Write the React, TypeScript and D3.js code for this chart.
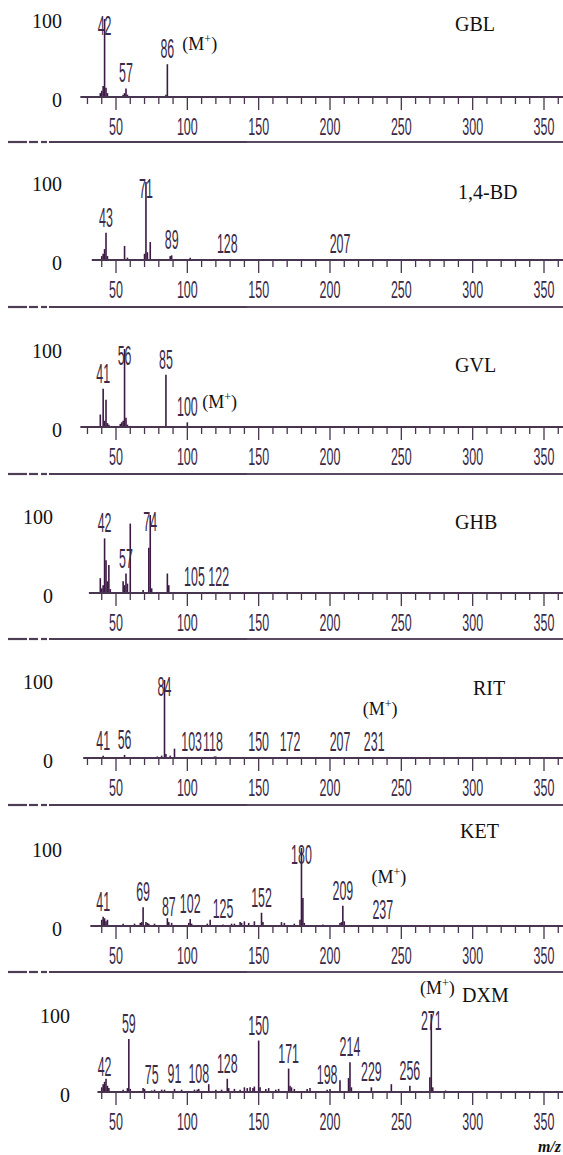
import React from "react";
import * as d3 from "d3";

// compound names, one panel each
const panelNames = ["GBL", "1,4-BD", "GVL", "GHB", "RIT", "KET", "DXM"];

// where each m/z axis begins
const axisStarts = [25, 33, 25, 31, 27, 32, 37];

// [m/z, relative intensity %]
const gblPeaks = [
  [39, 5], [40, 8], [41, 14], [42, 100], [43, 12], [44, 5],
  [55, 3], [56, 5], [57, 11], [58, 3], [85, 3], [86, 42],
];
const bdPeaks = [
  [40, 5], [41, 8], [42, 14], [43, 35], [44, 5], [56, 18], [58, 3],
  [70, 8], [71, 100], [72, 10], [74, 23], [88, 5], [89, 6], [102, 3],
  [128, 1], [207, 1],
];
const gvlPeaks = [
  [39, 16], [41, 49], [42, 8], [43, 35], [44, 5], [45, 3], [53, 4],
  [54, 6], [55, 8], [56, 100], [57, 12], [58, 3], [85, 67], [100, 6],
];
const ghbPeaks = [
  [39, 19], [40, 6], [41, 10], [42, 70], [43, 42], [44, 15], [45, 36],
  [46, 5], [55, 15], [56, 10], [57, 25], [58, 12], [60, 89], [69, 4],
  [73, 58], [74, 100], [75, 6], [86, 25], [87, 10], [105, 1], [122, 1],
];
const ritPeaks = [
  [41, 3], [56, 4], [79, 2], [82, 3], [84, 100], [85, 5], [88, 3],
  [91, 12], [103, 1], [118, 1], [119, 2], [120, 2], [150, 1], [172, 1],
  [207, 1], [231, 1],
];
const ketPeaks = [
  [40, 8], [41, 12], [42, 10], [43, 6], [44, 8], [55, 3], [63, 3],
  [67, 4], [68, 5], [69, 24], [71, 5], [72, 4], [73, 3], [77, 3],
  [86, 10], [87, 5], [89, 4], [101, 4], [102, 9], [103, 3], [114, 3],
  [116, 8], [125, 2], [131, 3], [133, 3], [137, 5], [138, 4], [140, 6],
  [143, 4], [147, 6], [152, 17], [153, 5], [166, 5], [168, 4], [175, 3],
  [179, 8], [180, 100], [181, 36], [182, 4], [195, 2], [207, 4],
  [208, 5], [209, 26], [210, 6], [237, 1],
];
const dxmPeaks = [
  [40, 6], [41, 10], [42, 13], [43, 17], [44, 8], [45, 5], [55, 3],
  [58, 5], [59, 68], [60, 4], [69, 5], [70, 4], [75, 2], [77, 3],
  [82, 3], [84, 3], [91, 4], [96, 3], [105, 3], [107, 3], [108, 4],
  [115, 10], [120, 3], [124, 3], [128, 17], [129, 5], [133, 4],
  [137, 3], [140, 6], [142, 5], [144, 6], [146, 5], [147, 7], [150, 66],
  [151, 6], [155, 4], [157, 5], [162, 3], [164, 4], [171, 30], [172, 8],
  [173, 6], [175, 4], [184, 4], [186, 5], [198, 3], [200, 4], [207, 15],
  [213, 18], [214, 38], [215, 6], [229, 6], [243, 10], [256, 8],
  [270, 19], [271, 100], [272, 6], [281, 2],
];
const peakLists = [gblPeaks, bdPeaks, gvlPeaks, ghbPeaks, ritPeaks, ketPeaks, dxmPeaks];

// labelled peaks
const gblLabels = [42, 57, 86];
const bdLabels = [43, 71, 89, 128, 207];
const gvlLabels = [41, 56, 85, 100];
const ghbLabels = [42, 57, 74, 105, 122];
const ritLabels = [41, 56, 84, 103, 118, 150, 172, 207, 231];
const ketLabels = [41, 69, 87, 102, 125, 152, 180, 209, 237];
const dxmLabels = [42, 59, 75, 91, 108, 128, 150, 171, 198, 214, 229, 256, 271];
const labelLists = [gblLabels, bdLabels, gvlLabels, ghbLabels, ritLabels, ketLabels, dxmLabels];

// molecular ion per panel, and where its (M+) note sits
const molecularIons = [86, null, 100, null, 231, 237, 271];
const ionPlacement = ["right", null, "right", null, "above", "above", "above"];

const xTickValues = d3.range(30, 361, 10);
const xTickLabels = [50, 100, 150, 200, 250, 300, 350];

// layout
const W = 563;
const H = 1155;
const axisYs = [97, 260, 427, 593, 758, 926, 1092];
const sepYs = [142, 307, 474, 639, 805, 972];
const yLabelRight = [62, 62, 62, 53, 53, 62, 70];
const titlePos = [[455, 24], [458, 192], [455, 365], [455, 522], [473, 688], [460, 831], [462, 995]];
const fullHeight = 78;

const ink = "#3c1a44";
const axisInk = "#4a3550";
const textInk = "#3a2a48";
const serif = "'Liberation Serif', 'Times New Roman', serif";
const sans = "'Liberation Sans', Arial, sans-serif";

const x = d3.scaleLinear().domain([50, 350]).range([116, 544]);

function Panel({ i }: { i: number }) {
  const axisY = axisYs[i];
  const y = d3.scaleLinear().domain([0, 100]).range([axisY, axisY - fullHeight]);
  const peaks = peakLists[i];
  const lookup = new Map(peaks.map((p) => [p[0], p[1]]));
  const labelBase = (m: number) =>
    Math.max(y(lookup.get(m) || 0) - 6, axisY - 62);
  const ticks = xTickValues.filter((t) => t >= axisStarts[i]);
  const ion = molecularIons[i];
  const [tx, ty] = titlePos[i];

  let ionNote = null;
  if (ion !== null) {
    const lb = labelBase(ion);
    const right = ionPlacement[i] === "right";
    ionNote = (
      <text
        x={right ? x(ion) + 15 : x(ion) + 6}
        y={right ? lb - 8 : lb - 36}
        fontFamily={serif}
        fontSize={18}
        textAnchor={right ? "start" : "middle"}
        fill="#111"
      >
        (M<tspan dy={-7} fontSize={12}>+</tspan>
        <tspan dy={7}>)</tspan>
      </text>
    );
  }

  return (
    <g>
      {/* peaks */}
      {peaks.map((p, k) => (
        <line
          key={k}
          x1={x(p[0])}
          x2={x(p[0])}
          y1={y(0)}
          y2={y(p[1])}
          stroke={ink}
          strokeWidth={1.6}
        />
      ))}
      {/* axis */}
      <line x1={x(axisStarts[i])} x2={W} y1={axisY} y2={axisY} stroke={axisInk} strokeWidth={2} />
      {ticks.map((t) => (
        <line
          key={t}
          x1={x(t)}
          x2={x(t)}
          y1={axisY - 1}
          y2={axisY + (t % 50 === 0 ? 13 : 7)}
          stroke={axisInk}
          strokeWidth={1.3}
        />
      ))}
      {xTickLabels.map((t) => (
        <text
          key={t}
          transform={`translate(${x(t)},${axisY + 38}) scale(0.52,1)`}
          textAnchor="middle"
          fontFamily={sans}
          fontSize={24}
          fill={textInk}
        >
          {t}
        </text>
      ))}
      {/* peak labels */}
      {labelLists[i].map((m) => (
        <text
          key={m}
          transform={`translate(${x(m)},${labelBase(m)}) scale(0.46,1)`}
          textAnchor="middle"
          fontFamily={sans}
          fontSize={27}
          fill={textInk}
        >
          {m}
        </text>
      ))}
      {/* y labels */}
      <text x={yLabelRight[i]} y={y(100) + 9} textAnchor="end" fontFamily={serif} fontSize={20} fill="#111">
        100
      </text>
      <text x={yLabelRight[i]} y={axisY + 10} textAnchor="end" fontFamily={serif} fontSize={20} fill="#111">
        0
      </text>
      <text x={tx} y={ty + 7} fontFamily={serif} fontSize={20} fill="#111">
        {panelNames[i]}
      </text>
      {ionNote}
    </g>
  );
}

function Separator({ yPos }: { yPos: number }) {
  const segs = [[8, 27], [29, 38], [41, 47], [49, 247]];
  return (
    <g>
      {segs.map((s, k) => (
        <line key={k} x1={s[0]} x2={s[1]} y1={yPos} y2={yPos} stroke="#4d3d55" strokeWidth={2.2} />
      ))}
      <line x1={247} x2={W} y1={yPos} y2={yPos} stroke="#5a4a62" strokeWidth={1.8} />
    </g>
  );
}

export default function App() {
  return (
    <svg
      width={W}
      height={H}
      style={{ position: "absolute", left: 0, top: 0, background: "#fff" }}
    >
      <rect width={W} height={H} fill="#fff" />
      {sepYs.map((s, k) => (
        <Separator key={k} yPos={s} />
      ))}
      {panelNames.map((_, i) => (
        <Panel key={i} i={i} />
      ))}
      <text
        x={561}
        y={1152}
        textAnchor="end"
        fontFamily={serif}
        fontSize={16}
        fontWeight="bold"
        fontStyle="italic"
        fill="#111"
      >
        m/z
      </text>
    </svg>
  );
}
